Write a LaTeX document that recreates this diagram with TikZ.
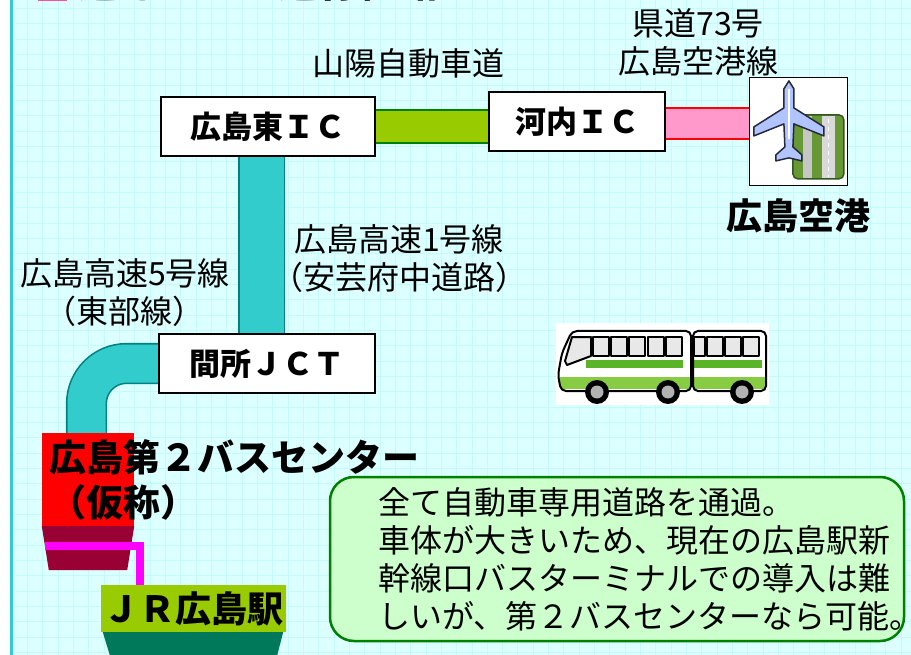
\documentclass[tikz,border=0pt]{standalone}
\usepackage{fontspec}
\setmainfont{Noto Sans CJK JP}
\usetikzlibrary{positioning,calc}

\definecolor{paper}{RGB}{220,255,255}
\definecolor{gridline}{RGB}{196,250,250}
\definecolor{frameteal}{RGB}{51,204,204}
\definecolor{roadteal}{RGB}{51,204,204}
\definecolor{edgeteal}{RGB}{0,128,128}
\definecolor{roadlime}{RGB}{153,204,0}
\definecolor{edgegreen}{RGB}{0,128,0}
\definecolor{roadpink}{RGB}{255,153,204}
\definecolor{titlepink}{RGB}{255,80,150}
\definecolor{busred}{RGB}{255,0,0}
\definecolor{wine}{RGB}{153,0,51}
\definecolor{linkmagenta}{RGB}{255,0,255}
\definecolor{stationlime}{RGB}{153,204,0}
\definecolor{stationbase}{RGB}{0,120,90}
\definecolor{notefill}{RGB}{204,255,204}
\definecolor{planeblue}{RGB}{176,196,255}
\definecolor{planeedge}{RGB}{40,40,60}
\definecolor{runwaygreen}{RGB}{102,153,51}
\definecolor{runwaydark}{RGB}{51,85,34}
\definecolor{glass}{RGB}{232,232,232}
\definecolor{busgreen}{RGB}{136,204,68}
\definecolor{busstripe}{RGB}{90,180,40}

\pgfdeclarelayer{paper}
\pgfdeclarelayer{roads}
\pgfsetlayers{paper,roads,main}

\tikzset{
  icbox/.style={draw=black, line width=2pt, fill=white, inner sep=0pt,
    minimum height=59pt, font=\fontsize{31}{31}\selectfont\bfseries},
  road/.style n args={3}{draw=#2, line width=1.6pt, double=#1, double distance=#3},
  roadlabel/.style={align=center, font=\fontsize{32}{38}\selectfont},
  bigtext/.style={font=\fontsize{36}{45}\selectfont\bfseries},
  titletext/.style={font=\fontsize{40}{40}\selectfont\bfseries},
  link/.style={draw=linkmagenta, line width=8pt},
  busline/.style={draw=black, line width=2pt, line join=round},
}

\begin{document}
\begin{tikzpicture}[x=1pt, y=-1pt]
  \useasboundingbox (0,0) rectangle (911,655);

  % sheet with grid
  \begin{pgfonlayer}{paper}
    \fill[white] (0,0) rectangle (12,655);
    \fill[paper] (12,0) rectangle (911,655);
    \foreach \gx in {12,27.33,...,911}
      \draw[gridline, line width=0.8pt] (\gx,0) -- (\gx,655);
    \foreach \gy in {8.4,23.73,...,655}
      \draw[gridline, line width=0.8pt] (12,\gy) -- (911,\gy);
    \draw[frameteal, line width=3pt] (11.5,0) -- (11.5,655);
  \end{pgfonlayer}

  % heading
  \begin{scope}
    \clip (0,0) rectangle (911,655);
    \fill[titlepink] (38,-28) rectangle (67,1.5);
    \node[titletext, anchor=base west] (title) at (75,-2.5) {連節バスの運行経路};
  \end{scope}

  % interchanges
  \node[icbox, minimum width=214pt] (hic) at (268,126.5) {広島東ＩＣ};
  \node[icbox, minimum width=176pt] (kic) at (577,121.5) {河内ＩＣ};
  \node[icbox, minimum width=216pt] (jct) at (267,363.5) {間所ＪＣＴ};

  % airport
  \node[draw=black, line width=1.2pt, fill=white, minimum width=98pt, minimum height=108pt] (apt) at (798.5,131.5) {};
  \node[bigtext, below=9pt of apt] (aptname) {広島空港};
  \begin{scope}[shift={(apt.north west)}]
    \draw[fill=runwaygreen, draw=runwaydark, line width=1.5pt, rounded corners=5pt] (44,38) rectangle (95,102);
    \fill[gray!45] (54,39) rectangle (63,101);
    \fill[gray!30] (73,39) rectangle (86,101);
    \draw[white, line width=1.5pt, dash pattern=on 4pt off 4pt] (79.5,42) -- (79.5,100);
    \draw[fill=planeblue, draw=planeedge, line width=1.5pt, line join=round]
      (40,4) -- (45,12) -- (45,31) -- (75,50) -- (75,59) -- (45,47) -- (44,70)
      -- (53,78) -- (53,84) -- (40,81) -- (27,84) -- (27,78) -- (36,70) -- (35,47)
      -- (5,59) -- (5,50) -- (35,31) -- (35,12) -- cycle;
    \draw[white, line width=2pt] (40,12) -- (40,62);
  \end{scope}

  % road names
  \node[roadlabel] (sanyo) at (408,63) {山陽自動車道};
  \node[roadlabel] (kendo) at (698,42) {県道73号\\広島空港線};
  \node[roadlabel] (route1) at (399,258.5) {広島高速1号線\\（安芸府中道路）};
  \node[roadlabel] (route5) at (125,292.5) {広島高速5号線\\（東部線）};

  % bus centre
  \node[fill=busred, minimum width=92pt, minimum height=93pt, inner sep=0pt] (bc) at (88,479.5) {};
  \fill[wine] (bc.south west) -- (bc.south east) -- ++(-7,44) -- ([shift={(7,44)}]bc.south west) -- cycle;
  \node[bigtext, font=\fontsize{37}{45}\selectfont\bfseries, align=left, anchor=west] (bcname)
    at ([xshift=4pt]bc.west) {広島第２バスセンター\\（仮称）};

  % station
  \node[bigtext, fill=stationlime, minimum width=185pt, minimum height=47pt, inner sep=0pt] (jr) at (193.5,608.5) {ＪＲ広島駅};
  \fill[stationbase] ([xshift=2pt]jr.south west) -- ([xshift=-3pt]jr.south east) -- ++(-6,23)
    -- ([shift={(9,23)}]jr.south west) -- cycle;
  \coordinate (lk) at (45,546);
  \draw[link] (lk) -| ([xshift=-54pt]jr.north);

  % roads
  \begin{pgfonlayer}{roads}
    \draw[road={roadlime}{edgegreen}{31pt}] (hic.east) -- (hic.east -| kic.west);
    \draw[road={roadpink}{red}{29pt}] ([yshift=-2pt]kic.east) -- ([yshift=-2pt]kic.east -| apt.west);
    \draw[road={roadteal}{edgeteal}{44pt}] ([xshift=-6.5pt]hic.south) -- ([xshift=-6.5pt]hic.south |- jct.north);
    \draw[road={roadteal}{edgeteal}{38pt}, rounded corners=40pt] (jct.west) -| ([xshift=-1.5pt]bc.north);
  \end{pgfonlayer}

  % articulated bus
  \begin{scope}[shift={(556,323)}]
    \fill[white] (0,0) rectangle (213,82);
    % front car
    \fill[white, rounded corners=5pt] (16,8) -- (135,8) -- (135,68) -- (5,68) -- (2,52) -- (6,30) -- cycle;
    \fill[busgreen] (4,54) rectangle (134,66);
    \fill[busstripe] (30,37) rectangle (127,45);
    \draw[busline, rounded corners=5pt] (16,8) -- (135,8) -- (135,68) -- (5,68) -- (2,52) -- (6,30) -- cycle;
    \draw[busline, fill=glass] (16,14) -- (35,14) -- (35,33) -- (11,42) -- (9,38) -- cycle;
    \foreach \i in {0,...,4}
      \draw[busline, fill=glass] (37+18.2*\i,14) rectangle ++(16,19);
    % rear car
    \fill[white, rounded corners=5pt] (137,8) rectangle (210,68);
    \fill[busgreen] (138,54) rectangle (209,66);
    \fill[busstripe] (138,37) rectangle (206,45);
    \draw[busline, rounded corners=5pt] (137,8) rectangle (210,68);
    \draw[busline, fill=glass] (138,14) rectangle (149,33);
    \foreach \i in {0,...,2}
      \draw[busline, fill=glass] (151+18*\i,14) rectangle ++(16,19);
    % wheels
    \foreach \wx in {41,112,186} {
      \fill[black] (\wx,69) circle (12);
      \fill[gray!60] (\wx,69) circle (6.5);
    }
  \end{scope}

  % note
  \node[draw=edgegreen, line width=2.5pt, fill=notefill, rounded corners=24pt,
    minimum width=574pt, minimum height=164pt] (note) at (617,559) {};
  \node[anchor=west, align=left, font=\fontsize{32}{38}\selectfont] (notetext) at ([xshift=46pt]note.west)
    {全て自動車専用道路を通過。\\車体が大きいため、現在の広島駅新\\幹線口バスターミナルでの導入は難\\しいが、第２バスセンターなら可能。};
\end{tikzpicture}
\end{document}
